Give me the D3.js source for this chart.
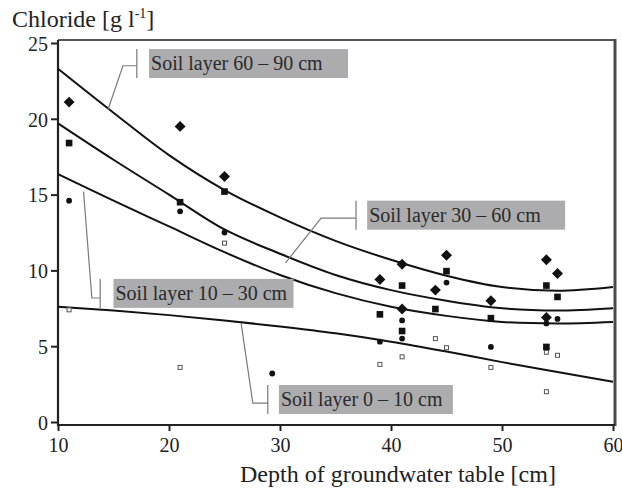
<!DOCTYPE html>
<html>
<head>
<meta charset="utf-8">
<script src="https://cdn.jsdelivr.net/npm/d3@7"></script>
<style>
    body { margin: 0; background: #fff; }
    svg text { font-family: "Liberation Serif", "Times New Roman", "DejaVu Serif", serif; }
    .tick-label { font-size: 20px; fill: #222; }
    .axis-title { font-size: 24px; fill: #222; }
    .curve { fill: none; stroke: #111; stroke-width: 2; }
    .leader { fill: none; stroke: #7a7a7a; stroke-width: 1.2; }
    .label-box { fill: #acacaf; }
    .label-text { font-size: 20px; fill: #2a2a2a; }
</style>
</head>
<body>
<svg width="622" height="492"></svg>
<script>
// measured points, depth of groundwater table [cm]
var diamondX = [11, 21, 25, 39, 41, 41, 44, 45, 49, 54, 55, 54];
var diamondY = [21.1, 19.5, 16.2, 9.4, 10.4, 7.45, 8.7, 11.0, 8.0, 10.7, 9.8, 6.9];

var squareX = [11, 21, 25, 39, 41, 41, 44, 45, 49, 54, 55, 54];
var squareY = [18.4, 14.5, 15.2, 7.1, 9.0, 6.0, 7.45, 9.95, 6.85, 9.0, 8.25, 4.95];

var dotX = [11, 21, 25, 29.3, 39, 41, 41, 45, 49, 54, 55];
var dotY = [14.6, 13.9, 12.5, 3.2, 5.3, 6.7, 5.5, 9.2, 4.95, 6.5, 6.8];

var openX = [11, 21, 25, 39, 41, 44, 45, 49, 54, 55, 54];
var openY = [7.4, 3.6, 11.8, 3.8, 4.3, 5.5, 4.9, 3.6, 4.6, 4.4, 2.0];

// fitted curves, every 5 cm
var curveX = [10, 15, 20, 25, 30, 35, 40, 45, 50, 55, 60];
var curve6090 = [23.3, 20.4, 17.6, 15.3, 13.5, 11.95, 10.7, 9.65, 8.9, 8.65, 8.9];
var curve3060 = [19.7, 17.3, 15.0, 12.7, 11.1, 9.7, 8.7, 8.0, 7.5, 7.35, 7.5];
var curve1030 = [16.35, 14.6, 12.9, 11.2, 9.7, 8.5, 7.6, 7.0, 6.6, 6.5, 6.6];
var curve0010 = [7.6, 7.35, 7.05, 6.7, 6.3, 5.85, 5.3, 4.65, 3.95, 3.3, 2.65];

var xTicks = [10, 20, 30, 40, 50, 60];
var yTicks = [0, 5, 10, 15, 20, 25];

var labelNames = ["Soil layer 60 \u2013 90 cm", "Soil layer 30 \u2013 60 cm",
                  "Soil layer 10 \u2013 30 cm", "Soil layer 0 \u2013 10 cm"];

window.onload = main;

function main() {
    var svg = d3.select("svg");

    var x = d3.scaleLinear().domain([10, 60]).range([58, 613]);
    var y = d3.scaleLinear().domain([0, 25]).range([422, 43]);

    var left = 58, right = 615, top = 40, bottom = 425;

    // frame (top and right are grey)
    svg.append("line").attr("x1", left).attr("x2", right).attr("y1", top).attr("y2", top)
        .attr("stroke", "#555").attr("stroke-width", 2);
    svg.append("line").attr("x1", right).attr("x2", right).attr("y1", top - 1).attr("y2", bottom + 1)
        .attr("stroke", "#4a4a4a").attr("stroke-width", 3);

    // axes
    var xAxis = d3.axisBottom(x).tickValues(xTicks).tickSize(6).tickSizeOuter(0);
    var gx = svg.append("g").attr("transform", "translate(0," + bottom + ")").call(xAxis)
        .attr("font-family", null).attr("font-size", null);
    gx.select(".domain").attr("d", "M" + left + ",0H" + right).attr("stroke", "#222").attr("stroke-width", 2.2);
    gx.selectAll(".tick line").attr("stroke", "#222").attr("stroke-width", 2);
    gx.selectAll(".tick text").attr("class", "tick-label").attr("fill", null)
        .attr("y", 13).attr("dy", "0.71em");

    var yAxis = d3.axisLeft(y).tickValues(yTicks).tickSize(7).tickSizeOuter(0);
    var gy = svg.append("g").attr("transform", "translate(" + left + ",0)").call(yAxis)
        .attr("font-family", null).attr("font-size", null);
    gy.select(".domain").attr("d", "M0," + top + "V" + (bottom + 1)).attr("stroke", "#222").attr("stroke-width", 2.2);
    gy.selectAll(".tick line").attr("stroke", "#222").attr("stroke-width", 2);
    gy.selectAll(".tick text").attr("class", "tick-label").attr("fill", null)
        .attr("x", -10).attr("dy", "0.36em");

    // axis titles
    var yt = svg.append("text").attr("class", "axis-title").attr("x", 12).attr("y", 27);
    yt.append("tspan").text("Chloride [g l");
    yt.append("tspan").attr("dy", -9).attr("font-size", 14).text("-1");
    yt.append("tspan").attr("dy", 9).text("]");

    svg.append("text").attr("class", "axis-title").attr("x", 240).attr("y", 482)
        .text("Depth of groundwater table [cm]");

    // curves
    var line = d3.line()
        .x(function (d) { return x(d[0]); })
        .y(function (d) { return y(d[1]); })
        .curve(d3.curveCatmullRom);

    [curve6090, curve3060, curve1030, curve0010].forEach(function (vals) {
        svg.append("path")
            .datum(d3.zip(curveX, vals))
            .attr("class", "curve")
            .attr("d", line);
    });

    // annotation layout: box corner, leader tick x, elbow, curve end (data units)
    var labels = [
        { box: [18.2, 24.6], w: 199, tick: 17.1, elbow: [15.85, 23.5], end: [14.5, 20.6] },
        { box: [37.85, 14.6], w: 198, tick: 36.85, elbow: [33.7, 13.45], end: [30.5, 10.5] },
        { box: [15.0, 9.44], w: 180, tick: 13.8, elbow: [13.05, 8.18], end: [12.3, 15.2] },
        { box: [29.9, 2.44], w: 174, tick: 28.9, elbow: [27.55, 1.25], end: [26.5, 6.5] }
    ];
    var boxH = 29;

    labels.forEach(function (d, i) {
        var bx = x(d.box[0]), by = y(d.box[1]);
        var tx = x(d.tick);
        var ex = x(d.elbow[0]), ey = y(d.elbow[1]);
        svg.append("path").attr("class", "leader")
            .attr("d", "M" + tx + "," + by + "V" + (by + boxH) +
                "M" + tx + "," + ey + "H" + ex + "L" + x(d.end[0]) + "," + y(d.end[1]));
        svg.append("rect").attr("class", "label-box")
            .attr("x", bx).attr("y", by).attr("width", d.w).attr("height", boxH);
        svg.append("text").attr("class", "label-text")
            .attr("x", bx + 2).attr("y", by + 21)
            .text(labelNames[i]);
    });

    // markers
    var diamond = d3.symbol().type(d3.symbolSquare).size(60);
    var square = d3.symbol().type(d3.symbolSquare).size(44);

    svg.append("g").selectAll("rect")
        .data(d3.zip(openX, openY))
        .enter().append("rect")
        .attr("x", function (d) { return x(d[0]) - 2; })
        .attr("y", function (d) { return y(d[1]) - 2; })
        .attr("width", 4).attr("height", 4)
        .attr("fill", "#fff").attr("stroke", "#555").attr("stroke-width", 1);

    svg.append("g").selectAll("circle")
        .data(d3.zip(dotX, dotY))
        .enter().append("circle")
        .attr("cx", function (d) { return x(d[0]); })
        .attr("cy", function (d) { return y(d[1]); })
        .attr("r", 2.9)
        .attr("fill", "#111");

    svg.append("g").selectAll("path")
        .data(d3.zip(squareX, squareY))
        .enter().append("path")
        .attr("d", square)
        .attr("transform", function (d) { return "translate(" + x(d[0]) + "," + y(d[1]) + ")"; })
        .attr("fill", "#111");

    svg.append("g").selectAll("path")
        .data(d3.zip(diamondX, diamondY))
        .enter().append("path")
        .attr("d", diamond)
        .attr("transform", function (d) { return "translate(" + x(d[0]) + "," + y(d[1]) + ") rotate(45)"; })
        .attr("fill", "#111");
}
</script>
</body>
</html>
